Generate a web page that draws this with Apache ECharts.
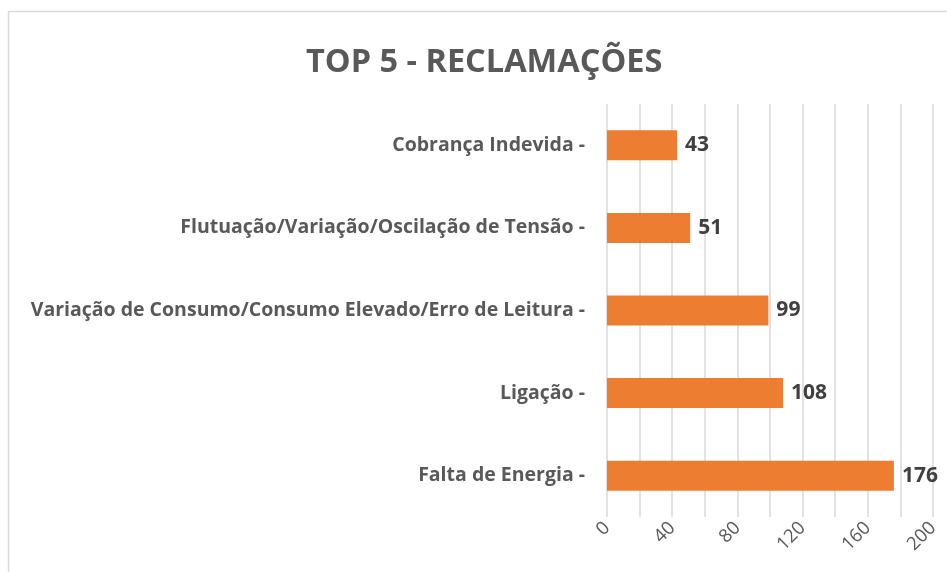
<!DOCTYPE html>
<html>
<head>
<meta charset="utf-8">
<script src="https://cdn.jsdelivr.net/npm/echarts@6/dist/echarts.min.js"></script>
<style>
  html, body { margin: 0; padding: 0; background: #fff; }
  #chart { width: 947px; height: 572px; }
</style>
</head>
<body>
<div id="chart"></div>
<script>
// categorias (de cima para baixo)
const categorias = [
  'Cobrança Indevida',
  'Flutuação/Variação/Oscilação de Tensão',
  'Variação de Consumo/Consumo Elevado/Erro de Leitura',
  'Ligação',
  'Falta de Energia'
]
// quantidade de reclamações
const valores = [43, 51, 99, 108, 176]
// rótulos do eixo x
const rotulosEixo = [0, 40, 80, 120, 160, 200]

const fonte = 'Open Sans'
const chart = echarts.init(document.getElementById('chart'))

const option = {
  backgroundColor: '#fff',
  animation: false,
  title: {
    text: 'TOP 5 - RECLAMAÇÕES',
    left: 301,
    top: 41,
    textStyle: {
      fontFamily: fonte,
      fontSize: 32.5,
      fontWeight: 'bold',
      color: '#595959'
    }
  },
  // moldura da área do gráfico
  graphic: [{
    type: 'polyline',
    shape: { points: [[8.5, 572], [8.5, 11.5], [947, 11.5]] },
    style: { stroke: '#d9d9d9', lineWidth: 1.5, fill: null }
  }],
  grid: {
    left: 607,
    right: 14,
    top: 104,
    bottom: 55
  },
  xAxis: {
    type: 'value',
    min: 0,
    max: 200,
    interval: 20,
    axisLine: { show: false },
    axisTick: { show: false },
    splitLine: { lineStyle: { color: '#d9d9d9', width: 1.5 } },
    axisLabel: {
      rotate: 45,
      margin: 8,
      fontFamily: fonte,
      fontSize: 18.5,
      color: '#595959',
      formatter: v => rotulosEixo.indexOf(v) >= 0 ? String(v) : ''
    }
  },
  yAxis: {
    type: 'category',
    inverse: true,
    data: categorias,
    axisLine: { show: false },
    axisTick: { show: false },
    axisLabel: {
      margin: 22,
      fontFamily: fonte,
      fontSize: 19.5,
      fontWeight: 'bold',
      color: '#595959',
      formatter: v => v + ' -'
    }
  },
  series: [{
    type: 'bar',
    data: valores,
    barWidth: 30,
    itemStyle: { color: '#ED7D31' },
    label: {
      show: true,
      position: 'right',
      distance: 8,
      fontFamily: fonte,
      fontSize: 21,
      fontWeight: 'bold',
      color: '#404040'
    }
  }]
}
chart.setOption(option)
</script>
</body>
</html>
